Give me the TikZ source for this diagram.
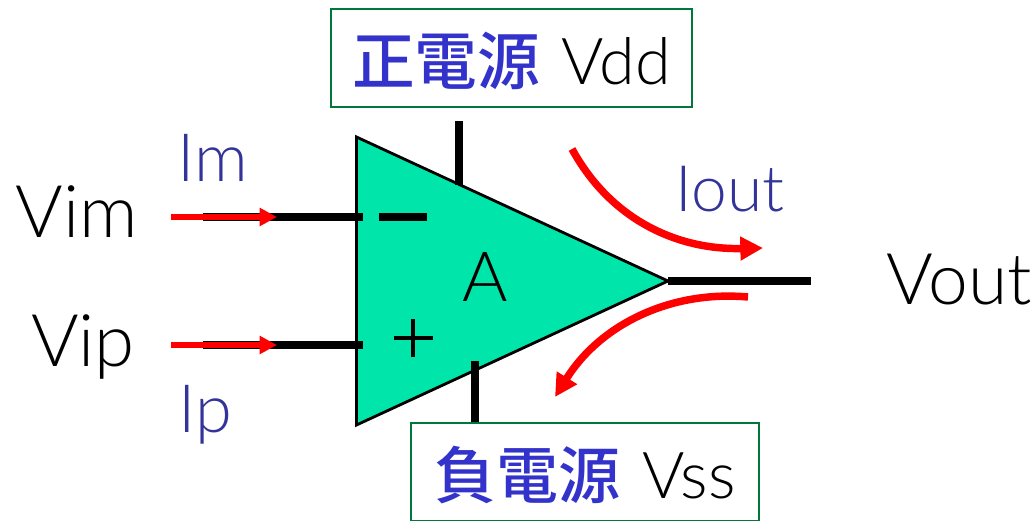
\documentclass[tikz,border=0pt]{standalone}
\usepackage{fontspec}
\usetikzlibrary{arrows.meta}
\setmainfont{Lato Light}
\newfontfamily\cjk{Noto Sans CJK JP Medium}
\definecolor{tealfill}{RGB}{0,230,170}
\definecolor{bluetxt}{RGB}{51,51,153}
\definecolor{greenbox}{RGB}{0,120,60}
\definecolor{cjkblue}{RGB}{51,51,204}
\tikzset{
  lab/.style={inner sep=0pt,font=\fontsize{54.5}{54}\selectfont,text=black},
  cur/.style={inner sep=0pt,font=\fontsize{50}{50}\selectfont,text=bluetxt},
  supply/.style={draw=greenbox,line width=1.3pt,fill=white,inner sep=0pt,outer sep=0pt,anchor=north west},
  wire/.style={line width=5.4pt,black},
  inarrow/.style={line width=4.8pt,red,-{Triangle[length=13pt,width=13pt]}},
  curve/.style={line width=5.6pt,red,-{Triangle[length=17pt,width=17pt]}},
}
\begin{document}
\begin{tikzpicture}[x=0.75pt,y=-0.75pt]
\useasboundingbox (0,0) rectangle (1035,521);
% amplifier
\coordinate (tl) at (356.5,137);
\coordinate (bl) at (356.5,425);
\coordinate (tip) at (668,281);
\draw[fill=tealfill,line width=2.1pt,line join=miter] (tl) -- (tip) -- (bl) -- cycle;
% wires
\coordinate (imA) at (203,217); \coordinate (imB) at (363,217);
\coordinate (ipA) at (203,345); \coordinate (ipB) at (363,345);
\coordinate (outB) at (811,281);
\coordinate (ddA) at (459,121); \coordinate (ddB) at (459,185);
\coordinate (ssA) at (475,361); \coordinate (ssB) at (475,424);
\draw[wire] (imA) -- (imB);
\draw[wire] (ipA) -- (ipB);
\draw[wire] (tip) -- (outB);
\draw[wire] (ddA) -- (ddB);
\draw[wire] (ssA) -- (ssB);
% signs
\coordinate (mA) at (379,217); \coordinate (mB) at (427,217);
\draw[line width=5.4pt] (mA) -- (mB);
\coordinate (pL) at (394,338); \coordinate (pR) at (433,338);
\coordinate (pT) at (413,319); \coordinate (pD) at (413,357);
\draw[line width=2.4pt] (pL) -- (pR);
\draw[line width=2.4pt] (pT) -- (pD);
% red arrows
\coordinate (rmA) at (171,217); \coordinate (rmB) at (277,217);
\coordinate (rpA) at (171,345); \coordinate (rpB) at (277,345);
\draw[inarrow] (rmA) -- (rmB);
\draw[inarrow] (rpA) -- (rpB);
\coordinate (c1A) at (572,149); \coordinate (c1B) at (763,248);
\coordinate (c2A) at (748,297); \coordinate (c2B) at (555,397);
\draw[curve] (c1A) .. controls (612,222) and (680,250) .. (c1B);
\draw[curve] (c2A) .. controls (670,290) and (600,325) .. (c2B);
% text
\node[lab] (vim) at (76.5,212) {Vim};
\node[lab] (vip) at (83,347) {Vip};
\node[lab,font=\fontsize{53.5}{54}\selectfont] (vout) at (959,280) {Vout};
\node[lab,font=\fontsize{52}{52}\selectfont] (a) at (485,277) {A};
\node[cur] (im) at (213,158) {Im};
\node[cur] (ip) at (205,415) {Ip};
\node[cur,font=\fontsize{48}{48}\selectfont] (iout) at (730,189) {Iout};
\node[supply,minimum width=361pt*0.75,minimum height=98pt*0.75] (dd) at (331,9) {};
\node[inner sep=0pt] (ddt) at (511.5,61) {{\cjk\fontsize{47}{47}\selectfont\textcolor{cjkblue}{正電源}}\fontsize{48.5}{48}\selectfont\ \hspace{3pt}Vdd};
\node[supply,minimum width=348pt*0.75,minimum height=98pt*0.75] (ss) at (411,423) {};
\node[inner sep=0pt] (sst) at (585,475) {{\cjk\fontsize{46.5}{47}\selectfont\textcolor{cjkblue}{負電源}}\fontsize{48.5}{48}\selectfont\ \hspace{3pt}Vss};
\end{tikzpicture}
\end{document}
